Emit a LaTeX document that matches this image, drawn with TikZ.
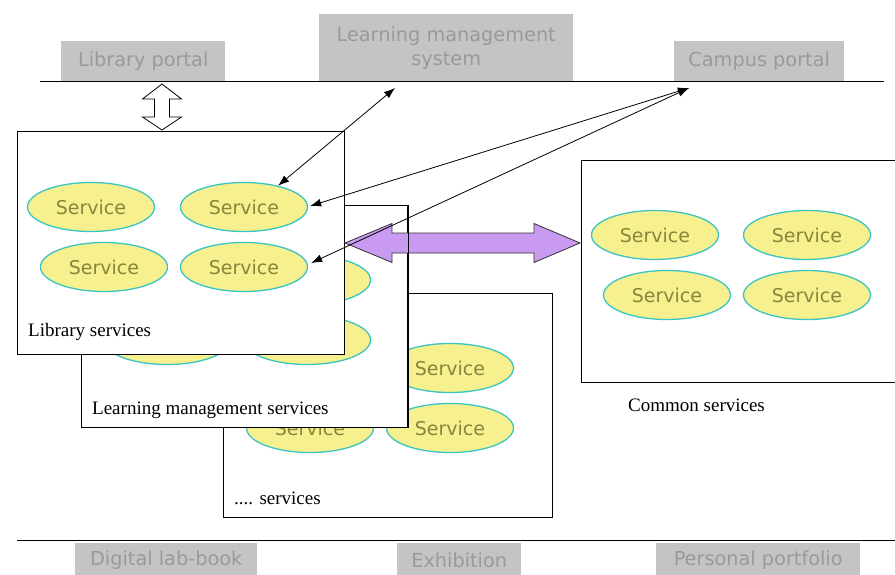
\documentclass[tikz,border=0pt]{standalone}
\usepackage{fontspec}
\setmainfont{Liberation Serif}
\newfontfamily\dvs{DejaVu Sans}
\usetikzlibrary{shapes.geometric,arrows.meta,calc}
\definecolor{gboxc}{HTML}{C4C4C4}
\definecolor{gtxt}{HTML}{9A9A9A}
\definecolor{svfill}{HTML}{F7F08E}
\definecolor{svline}{HTML}{3CC4C4}
\definecolor{svtext}{HTML}{86863C}
\definecolor{purp}{HTML}{C99BF0}
\tikzset{
  svc/.style={ellipse, draw=svline, fill=svfill, line width=1.3pt,
    minimum width=127pt, minimum height=49pt, inner sep=0pt,
    font=\dvs\fontsize{19}{22}\selectfont, text=svtext},
  gbox/.style={fill=gboxc, inner sep=0pt, text=gtxt,
    font=\dvs\fontsize{19.3}{24}\selectfont, align=center},
  panel/.style={draw=black, fill=white, line width=1pt, inner sep=0pt, anchor=north west},
  lbl/.style={font=\fontsize{19}{22}\selectfont, inner sep=0pt, anchor=west},
  conn/.style={line width=0.8pt, {Latex[length=11pt,width=8pt]}-{Latex[length=11pt,width=8pt]}},
}
\begin{document}
\begin{tikzpicture}[x=1pt,y=-1pt]
\clip (0,0) rectangle (895,574);
\fill[white] (0,0) rectangle (895,574);

% top gray boxes and line
\node[gbox, minimum width=164pt, minimum height=40pt, anchor=north west] (lp) at (61,41) {Library portal};
\node[gbox, minimum width=254pt, minimum height=67pt, anchor=north west] (lms) at (319,14) {Learning management\\system};
\node[gbox, minimum width=170pt, minimum height=40pt, anchor=north west] (cp) at (674,41) {Campus portal};
\coordinate (tl1) at (40,81);
\coordinate (tl2) at (884,81);
\draw[line width=1pt] (tl1) -- (tl2);

% bottom line and gray boxes
\coordinate (bl1) at (17,540);
\coordinate (bl2) at (895,540);
\draw[line width=1pt] (bl1) -- (bl2);
\node[gbox, minimum width=182pt, minimum height=34pt, anchor=north west] (dlb) at (75,543) {Digital lab-book};
\node[gbox, minimum width=124pt, minimum height=34pt, anchor=north west] (exh) at (397,543) {Exhibition};
\node[gbox, minimum width=204pt, minimum height=34pt, anchor=north west] (pp) at (656,543) {Personal portfolio};

% third panel
\node[panel, minimum width=329pt, minimum height=224pt] (oth) at (223,293) {};
\node[svc] (oe1) at (297,368) {};
\node[svc] (oe2) at (450,368) {Service};
\node[svc] (oe3) at (310,428) {Service};
\node[svc] (oe4) at (450,428) {Service};
\node[lbl] (othl) at (234,498) {.... services};

% learning management panel (its ellipses' texts are hidden by the library panel)
\node[panel, minimum width=326pt, minimum height=222pt] (lm) at (81,205) {};
\node[svc] (me1) at (154,280) {};
\node[svc] (me2) at (307,280) {};
\node[svc] (me3) at (167,340) {};
\node[svc] (me4) at (307,340) {};
\node[lbl] (lml) at (92,410) {Learning management services};

% library panel
\node[panel, minimum width=327pt, minimum height=223pt] (lib) at (17,131) {};
\node[svc] (le1) at (91,207) {Service};
\node[svc] (le2) at (244,207) {Service};
\node[svc] (le3) at (104,267) {Service};
\node[svc] (le4) at (244,267) {Service};
\node[lbl] (libl) at (28,332) {Library services};

% common panel
\node[panel, minimum width=320pt, minimum height=222pt] (com) at (581,160) {};
\node[svc] (ce1) at (655,235) {Service};
\node[svc] (ce2) at (807,235) {Service};
\node[svc] (ce3) at (667,295) {Service};
\node[svc] (ce4) at (807,295) {Service};
\node[lbl] (coml) at (628,405) {Common services};

% hollow double arrow library portal <-> library panel
\coordinate (ha) at (162,84);
\begin{scope}[shift={(ha)}]
\draw[fill=white, line width=0.8pt] (0,0) -- (19.5,15) -- (7.5,15) -- (7.5,33) -- (19.5,33) -- (0,46)
  -- (-19.5,33) -- (-7.5,33) -- (-7.5,15) -- (-19.5,15) -- cycle;
\end{scope}

% purple double arrow library <-> common
\coordinate (pl) at (345,243);
\begin{scope}[shift={(pl)}]
\draw[fill=purp, draw=black!80, line width=0.8pt] (0,0) -- (47,-19.5) -- (47,-10) -- (189,-10) -- (189,-19.5) -- (235,0)
  -- (189,19.5) -- (189,10) -- (47,10) -- (47,19.5) -- cycle;
\end{scope}
\draw[line width=1pt] (lm.north east) -- (lm.south east);

% connectors
\coordinate (lmsport) at (395,88);
\coordinate (cpport) at (689,88);
\draw[conn] (lmsport) -- (le2.32);
\draw[conn] (cpport) -- ($(le2.east)+(2,-1)$);
\draw[conn] (cpport) -- ($(le4.east)+(3,-4)$);
\end{tikzpicture}
\end{document}
